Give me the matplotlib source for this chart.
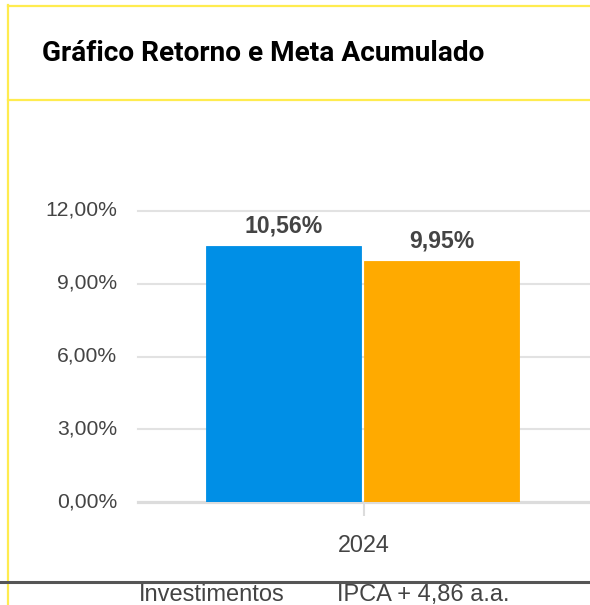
import matplotlib
matplotlib.use("Agg")
import matplotlib.pyplot as plt
from matplotlib.lines import Line2D
from matplotlib.transforms import ScaledTranslation

# ---- data ----
title = "Gráfico Retorno e Meta Acumulado"
categories = ["2024"]
series_names = ["Investimentos", "IPCA + 4,86 a.a."]
series_values = [[10.56], [9.95]]
series_colors = ["#008FE6", "#FFAA00"]
y_ticks = [0, 3, 6, 9, 12]
y_tick_labels = ["0,00%", "3,00%", "6,00%", "9,00%", "12,00%"]

W, H = 590, 605
fig = plt.figure(figsize=(W / 100, H / 100), dpi=100)
fig.patch.set_facecolor("white")

def fx(px):
    return px / W

def fy(py):
    return (H - py) / H

# axes: x 138..590, y(0%) at 502, 12% at 211
y_top_val = 12.6
px_per_unit = (502 - 211) / 12.0
ax_top_px = 502 - y_top_val * px_per_unit
ax = fig.add_axes([fx(138), fy(502), fx(590) - fx(138), (502 - ax_top_px) / H])
ax.set_xlim(-0.5, 0.5)
ax.set_ylim(0, y_top_val)
for s in ax.spines.values():
    s.set_visible(False)
ax.set_facecolor("none")

# gridlines
for t in y_ticks:
    if t == 0:
        ax.axhline(t, color="#dcdcdc", lw=2.3, clip_on=False, zorder=1)
    else:
        ax.axhline(t, color="#e2e2e2", lw=1.5, clip_on=False, zorder=1)

bar_w = 0.342
offsets = [-0.178, 0.172]
label_offsets = [14.0, 14.5]
for i, (name, vals, col) in enumerate(zip(series_names, series_values, series_colors)):
    xs = [j + offsets[i] for j in range(len(categories))]
    bars = ax.bar(xs, vals, width=bar_w, color=col, edgecolor=col, linewidth=0.6,
                  zorder=2, label=name)
    for b, v in zip(bars, vals):
        ax.annotate(f"{v:.2f}%".replace(".", ","),
                    (b.get_x() + b.get_width() / 2, v),
                    xytext=(0, label_offsets[i]), textcoords="offset points",
                    ha="center", va="center", fontsize=16.6, fontweight="bold",
                    color="#444444", family="Liberation Sans")

ax.set_yticks(y_ticks)
ax.set_yticklabels(y_tick_labels, family="Liberation Sans", fontsize=15.2, color="#444444")
ax.tick_params(axis="y", length=0, pad=15)
shift = ScaledTranslation(0, 2.5 / 100, fig.dpi_scale_trans)
for lab in ax.get_yticklabels():
    lab.set_transform(lab.get_transform() + shift)
ax.set_xticks(range(len(categories)))
ax.set_xticklabels(categories, family="Liberation Sans", fontsize=16.8, color="#444444")
ax.tick_params(axis="x", direction="out", length=10, width=1.5, color="#dcdcdc", pad=13)

# title
fig.text(fx(42), fy(61), title, family="Roboto", fontweight="bold", fontsize=20.2,
         color="#000000", ha="left", va="baseline")

# yellow frame lines
yel = "#FFEC4F"
fig.add_artist(Line2D([fx(8), fx(8)], [fy(5), fy(H + 5)], transform=fig.transFigure,
                      color=yel, lw=1.6))
fig.add_artist(Line2D([fx(8), fx(W + 5)], [fy(6), fy(6)], transform=fig.transFigure,
                      color=yel, lw=1.6))
fig.add_artist(Line2D([fx(8), fx(W + 5)], [fy(99.5), fy(99.5)], transform=fig.transFigure,
                      color=yel, lw=1.6))

# dark separator line
fig.add_artist(Line2D([0, 1], [fy(582), fy(582)], transform=fig.transFigure,
                      color="#555555", lw=2.2))

# legend labels (clipped at bottom, as in the reference)
legend_x = [139, 337]
for name, lx in zip(series_names, legend_x):
    fig.text(fx(lx), fy(601), name, family="Liberation Sans", fontsize=17,
             color="#444444", ha="left", va="baseline")

fig.savefig("out.png", dpi=100, facecolor="white")
